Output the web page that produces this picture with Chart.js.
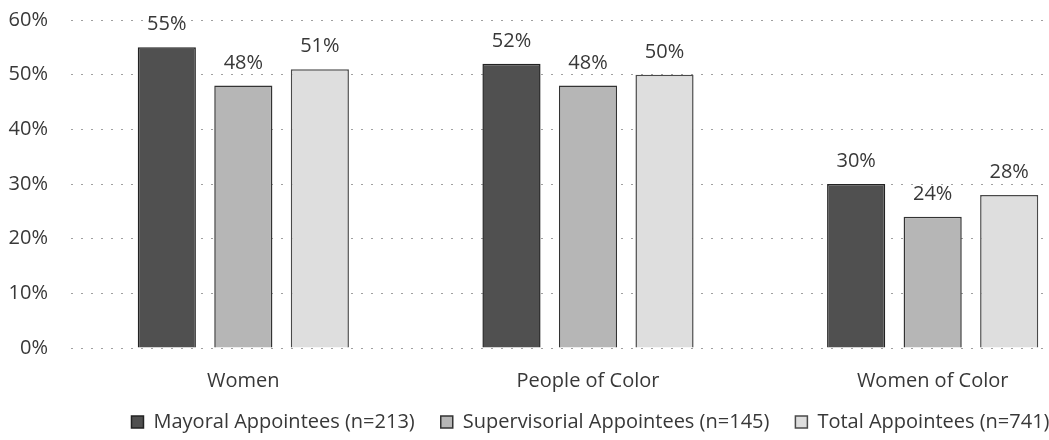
<!DOCTYPE html>
<html>
<head>
<meta charset="utf-8">
<script src="https://cdn.jsdelivr.net/npm/chart.js@4"></script>
<style>
  html, body { margin: 0; padding: 0; background: #fff; overflow: hidden; }
  #wrap { width: 1105px; height: 440px; }
</style>
</head>
<body>
<div id="wrap"><canvas id="myChart"></canvas></div>
<script>
'use strict';

// ***** DATA *****
let categories = ['Women', 'People of Color', 'Women of Color'];
let mayoral = [55, 52, 30];
let supervisorial = [48, 48, 24];
let totalAppt = [51, 50, 28];
let seriesNames = ['Mayoral Appointees (n=213)', 'Supervisorial Appointees (n=145)', 'Total Appointees (n=741)'];
let yTicks = [0, 10, 20, 30, 40, 50, 60];

const fontFamily = '"Open Sans", "Noto Sans", sans-serif';
const fontSize = 20;
const textColor = '#383838';

// draws the value above each bar
const valueLabels = {
  id: 'valueLabels',
  afterDatasetsDraw(chart) {
    const c = chart.ctx;
    c.save();
    c.font = fontSize + 'px ' + fontFamily;
    c.fillStyle = textColor;
    c.textAlign = 'center';
    c.textBaseline = 'alphabetic';
    chart.data.datasets.forEach((ds, i) => {
      chart.getDatasetMeta(i).data.forEach((bar, j) => {
        c.fillText(ds.data[j] + '%', bar.x, bar.y - 17);
      });
    });
    c.restore();
  }
};

// legend in the original sits right of centre and a little higher
const legendShift = {
  id: 'legendShift',
  afterLayout(chart) {
    chart.legend.left += 38;
    chart.legend.right += 38;
    chart.legend.top -= 7;
    chart.legend.bottom -= 7;
  }
};

const ctx = document.getElementById('myChart').getContext('2d');

new Chart(ctx, {
  type: 'bar',
  data: {
    labels: categories,
    datasets: [
      { label: seriesNames[0], data: mayoral, backgroundColor: '#505050', borderColor: '#222', borderWidth: 1.5 },
      { label: seriesNames[1], data: supervisorial, backgroundColor: '#b6b6b6', borderColor: '#333', borderWidth: 1.5 },
      { label: seriesNames[2], data: totalAppt, backgroundColor: '#dedede', borderColor: '#4a4a4a', borderWidth: 1.5 }
    ]
  },
  plugins: [valueLabels, legendShift],
  options: {
    responsive: true,
    maintainAspectRatio: false,
    animation: false,
    layout: { padding: 0 },
    datasets: { bar: { categoryPercentage: 0.666, barPercentage: 0.76 } },
    scales: {
      x: {
        grid: { display: false, drawTicks: false },
        border: { display: false },
        afterFit: (axis) => { axis.height = 45; },
        ticks: { color: textColor, font: { family: fontFamily, size: fontSize }, padding: 21 }
      },
      y: {
        min: 0,
        max: 60,
        afterBuildTicks: (axis) => { axis.ticks = yTicks.map(v => ({ value: v })); },
        afterFit: (axis) => {
          axis.width = 71;
          axis.paddingTop = 20;
          axis.paddingBottom = 0;
        },
        grid: { color: '#a0a0a0', lineWidth: 1, drawTicks: false },
        border: { display: false, dash: [2, 8] },
        ticks: { color: textColor, font: { family: fontFamily, size: fontSize }, padding: 23, callback: (v) => v + '%' }
      }
    },
    plugins: {
      tooltip: { enabled: false },
      legend: {
        position: 'bottom',
        maxHeight: 47,
        labels: {
          color: textColor,
          font: { family: fontFamily, size: fontSize },
          boxWidth: 12,
          boxHeight: 12,
          padding: 26
        }
      }
    }
  }
});
</script>
</body>
</html>
